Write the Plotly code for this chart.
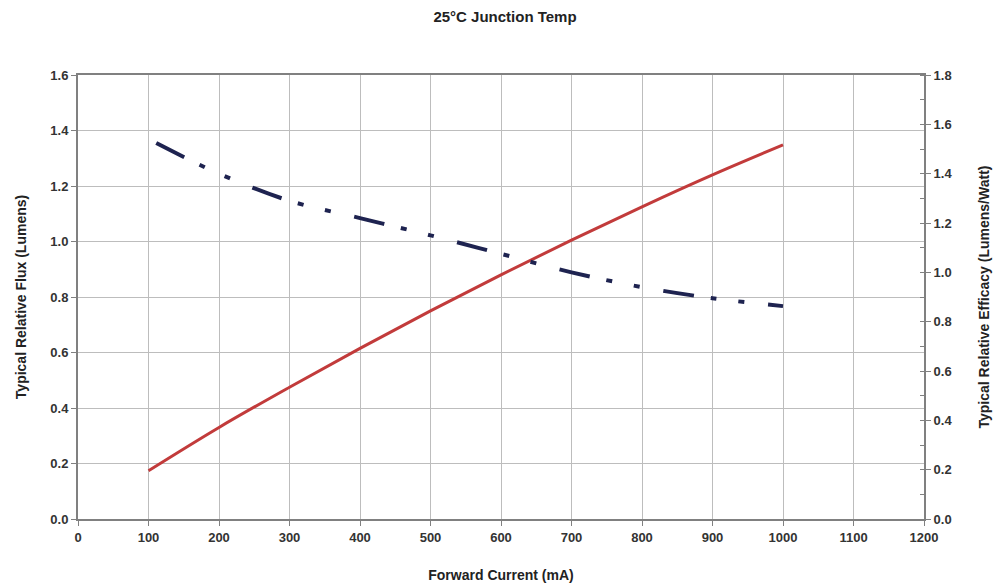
import plotly.graph_objects as go

# Data
flux_current = [100, 200, 300, 400, 500, 600, 700, 800, 900, 1000]
flux_values = [0.174, 0.330, 0.475, 0.615, 0.750, 0.880, 1.005, 1.125, 1.240, 1.348]

eff_current = [111, 200, 300, 400, 500, 600, 700, 800, 900, 1000]
eff_values = [1.524, 1.400, 1.290, 1.220, 1.150, 1.075, 1.000, 0.940, 0.895, 0.863]

x_ticks = list(range(0, 1201, 100))

FONT = "Liberation Sans, Arial, sans-serif"
TXT = "#333333"
GRID = "#bdbdbd"
AXIS = "#808080"

fig = go.Figure()
fig.add_trace(go.Scatter(
    x=flux_current, y=flux_values, mode="lines", line_shape="spline",
    line=dict(color="#c23b3b", width=3), name="Flux", yaxis="y"))
fig.add_trace(go.Scatter(
    x=eff_current, y=eff_values, mode="lines", line_shape="spline",
    line=dict(color="#1e2350", width=4, dash="31px,17px,6px,22px,6px,24px"),
    name="Efficacy", yaxis="y2"))

fig.update_layout(
    width=994, height=578,
    margin=dict(l=70, r=78, t=67, b=67),
    paper_bgcolor="white", plot_bgcolor="white",
    showlegend=False,
    font=dict(family=FONT, color=TXT),
    title=dict(text="25°C Junction Temp", x=0.5, xanchor="center", y=0.984, yanchor="middle",
               font=dict(size=15, weight="bold", color="#222222", family=FONT)),
    xaxis=dict(range=[0, 1200], tickvals=x_ticks, showgrid=True, gridcolor=GRID, gridwidth=1,
               showline=True, linecolor=AXIS, linewidth=2, mirror=True,
               ticks="outside", ticklen=5, tickcolor=AXIS, zeroline=False,
               automargin=False,
               tickfont=dict(size=13, weight="bold", color=TXT),
               title=dict(text="Forward Current (mA)", standoff=27,
                          font=dict(size=14, weight="bold", color="#222222"))),
    yaxis=dict(range=[0, 1.6], dtick=0.2, tickformat=".1f", showgrid=True, gridcolor=GRID,
               showline=True, linecolor=AXIS, linewidth=2, zeroline=False,
               ticks="outside", ticklen=5, tickcolor=AXIS,
               tickfont=dict(size=13, weight="bold", color=TXT),
               title=dict(text="Typical Relative Flux (Lumens)", standoff=20,
                          font=dict(size=14, weight="bold", color="#222222"))),
    yaxis2=dict(range=[0, 1.8], dtick=0.2, tickformat=".1f", overlaying="y", side="right",
                showgrid=False, showline=True, linecolor=AXIS, linewidth=2, zeroline=False,
                ticks="outside", ticklen=5, tickcolor=AXIS,
                minor=dict(dtick=0.1, ticks="inside", ticklen=4, tickcolor=AXIS),
                tickfont=dict(size=13, weight="bold", color=TXT),
                title=dict(text="Typical Relative Efficacy (Lumens/Watt)", standoff=28,
                           font=dict(size=14, weight="bold", color="#222222"))),
)

fig.write_html("out.html")
